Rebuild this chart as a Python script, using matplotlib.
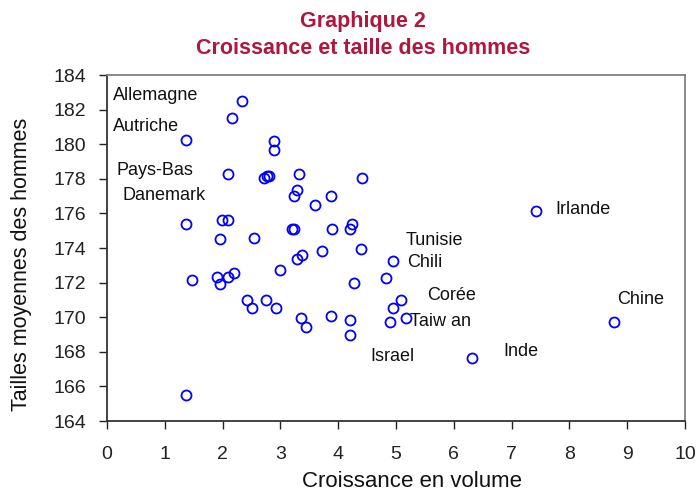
import matplotlib
matplotlib.use("Agg")
import matplotlib.pyplot as plt

plt.rcParams['font.family'] = ['Liberation Sans', 'DejaVu Sans']

growth = [2.34, 2.17, 1.37, 2.89, 2.89, 2.09, 2.71, 2.76, 2.80, 3.33, 4.41,
          3.28, 3.23, 3.87, 3.59, 1.37, 1.99, 2.09, 3.20, 3.24, 3.90, 4.24,
          4.21, 2.54, 1.96, 3.72, 4.39, 4.94, 3.38, 3.28, 2.99, 4.28, 4.83,
          1.47, 1.91, 1.96, 2.10, 2.20, 2.43, 2.51, 2.75, 2.93, 3.35, 3.45,
          3.87, 4.21, 4.21, 5.08, 4.94, 4.90, 5.18, 6.32, 1.37, 7.42, 8.77]
height = [182.48, 181.50, 180.26, 180.17, 179.69, 178.25, 178.06, 178.14, 178.18,
          178.25, 178.04, 177.36, 176.98, 177.03, 176.49, 175.38, 175.60, 175.60,
          175.07, 175.07, 175.07, 175.40, 175.07, 174.60, 174.50, 173.85, 173.94,
          173.27, 173.60, 173.37, 172.72, 171.97, 172.28, 172.16, 172.30, 171.93,
          172.30, 172.55, 170.97, 170.51, 170.97, 170.51, 169.96, 169.42, 170.07,
          169.86, 168.96, 170.97, 170.51, 169.75, 169.96, 167.64, 165.52, 176.16,
          169.72]

countries = ["Allemagne", "Autriche", "Pays-Bas", "Danemark", "Tunisie", "Chili",
             "Corée", "Taiw an", "Israel", "Inde", "Irlande", "Chine"]
label_pos = [(0.10, 182.84), (0.10, 181.05), (0.16, 178.5), (0.26, 177.06),
             (5.16, 174.46), (5.19, 173.19), (5.54, 171.28), (5.24, 169.78),
             (4.55, 167.7), (6.85, 168.0), (7.75, 176.2), (8.82, 171.05)]

x_ticks = list(range(0, 11))
y_ticks = list(range(164, 185, 2))

fig = plt.figure(figsize=(6.99, 4.90), dpi=100)
ax = fig.add_axes([107/699, 69/490, 578/699, 346/490])

ax.plot(growth, height, linestyle='none', marker='o', markersize=7.2,
        markerfacecolor='none', markeredgecolor='#0000FF', markeredgewidth=1.3)

for name, (lx, ly) in zip(countries, label_pos):
    ax.text(lx, ly, name, fontsize=13, color='#111111', ha='left', va='center')

ax.set_xlim(0, 10)
ax.set_ylim(164, 184)
ax.set_xticks(x_ticks)
ax.set_yticks(y_ticks)
ax.tick_params(axis='both', direction='out', length=6, width=1, labelsize=14,
               colors='#222222')
ax.tick_params(axis='y', pad=9)
ax.tick_params(axis='x', pad=12)

for side in ['left', 'bottom']:
    ax.spines[side].set_color('#333333')
    ax.spines[side].set_linewidth(1.3)
for side in ['top', 'right']:
    ax.spines[side].set_color('#808080')
    ax.spines[side].set_linewidth(1.3)

ax.set_xlabel("Croissance en volume", fontsize=16, color='#111111')
ax.set_ylabel("Tailles moyennes des hommes", fontsize=15.5, color='#111111')
ax.xaxis.set_label_coords((412 - 107) / 578, -(481 - 421) / 346)
ax.xaxis.label.set_va('center')
ax.yaxis.set_label_coords(-(107 - 22) / 578, (421 - 264) / 346)
ax.yaxis.label.set_va('center')

fig.text(363/699, 1 - 22/490, "Graphique 2", ha='center', va='center',
         fontsize=15.5, fontweight='bold', color='#B0173E')
fig.text(363/699, 1 - 48/490, "Croissance et taille des hommes", ha='center',
         va='center', fontsize=15.5, fontweight='bold', color='#B0173E')

fig.savefig("out.png", dpi=100)
